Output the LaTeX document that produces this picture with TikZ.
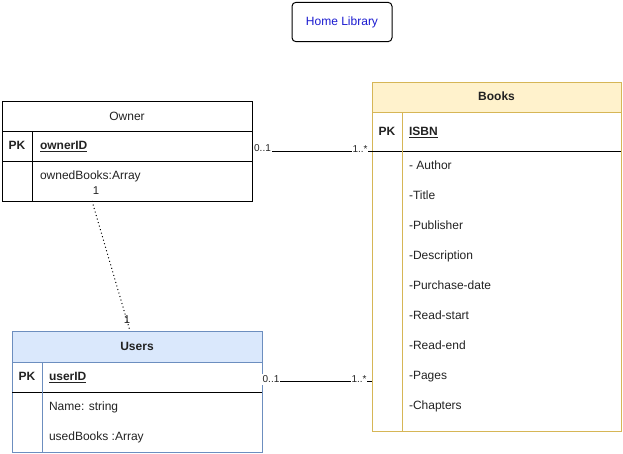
\documentclass[tikz,border=0pt]{standalone}
\usepackage{fontspec}
\setmainfont{Liberation Sans}
\definecolor{userfill}{HTML}{DAE8FC}
\definecolor{userline}{HTML}{6C8EBF}
\definecolor{bookfill}{HTML}{FFF2CC}
\definecolor{bookline}{HTML}{D6B656}
\definecolor{titleblue}{HTML}{1A1AD0}
\definecolor{txt}{HTML}{222222}
\begin{document}
\begin{tikzpicture}[x=0.75pt,y=-0.75pt,line width=0.75pt,
  every node/.style={font=\fontsize{9}{11}\selectfont,inner sep=0pt,outer sep=0pt,text=txt,text height=6.6pt,text depth=1.9pt},
  fieldtext/.style={anchor=west},
  boldtext/.style={font=\fontsize{9}{11}\selectfont\bfseries},
  cardlabel/.style={font=\fontsize{7.5}{9}\selectfont,fill=white,inner sep=0.6pt,text height=5.5pt,text depth=1.6pt},
  endlabel/.style={font=\fontsize{8.5}{10}\selectfont},
  tablebox/.style={draw,rectangle,anchor=north west,inner sep=0pt,outer sep=0pt},
  connector/.style={draw=black,line width=0.75pt}]
\useasboundingbox (0,0) rectangle (623,453);

% title
\node[draw=black,rounded corners=3pt,minimum width=75pt,minimum height=29.5pt,text=titleblue] (title) at (342,22) {Home Library};

% Owner
\node[tablebox,minimum width=187.5pt,minimum height=75pt] (owner) at (2,101) {};
\draw (2,131) -- (252,131);
\draw (2,161) -- (252,161);
\draw (32,131) -- (32,201);
\node (ownerhead) at (127,117) {Owner};
\node[boldtext] (ownerpk) at (17,146.5) {PK};
\node[fieldtext,boldtext] (ownerid) at (40,146.5) {\underline{ownerID}};
\node[fieldtext] (ownerf1) at (40,176.5) {ownedBooks:Array};

% Users
\fill[userfill] (12,331) rectangle (262,362);
\node[tablebox,draw=userline,minimum width=187.5pt,minimum height=90.75pt] (users) at (12,331) {};
\draw[userline] (12,362) -- (262,362);
\draw (12,392) -- (262,392);
\draw[userline] (42,362) -- (42,452);
\node[boldtext] (usershead) at (137,347) {Users};
\node[boldtext] (userspk) at (27,377.5) {PK};
\node[fieldtext,boldtext] (userid) at (49,377.5) {\underline{userID}};
\node[fieldtext] (usersf1) at (49,407.5) {Name: string};
\node[fieldtext] (usersf2) at (49,437.5) {usedBooks :Array};

% Books
\fill[bookfill] (372,82) rectangle (621,112);
\node[tablebox,draw=bookline,minimum width=186.75pt,minimum height=261.75pt] (books) at (372,82) {};
\draw[bookline] (372,112) -- (621,112);
\draw (372,151) -- (621,151);
\draw[bookline] (402,112) -- (402,431);
\node[boldtext] (bookshead) at (496.5,97) {Books};
\node[boldtext] (bookspk) at (387,132) {PK};
\node[fieldtext,boldtext] (isbn) at (409,132) {\underline{ISBN}};
\node[fieldtext] (bf1) at (409,166.5) {- Author};
\node[fieldtext] (bf2) at (409,196.5) {-Title};
\node[fieldtext] (bf3) at (409,226.5) {-Publisher};
\node[fieldtext] (bf4) at (409,256.5) {-Description};
\node[fieldtext] (bf5) at (409,286.5) {-Purchase-date};
\node[fieldtext] (bf6) at (409,316.5) {-Read-start};
\node[fieldtext] (bf7) at (409,346.5) {-Read-end};
\node[fieldtext] (bf8) at (409,376.5) {-Pages};
\node[fieldtext] (bf9) at (409,406.5) {-Chapters};

% ports
\path (owner.north east) ++(0,50) coordinate (ownerport);
\path (books.north west) ++(0,69) coordinate (booksport1);
\path (users.north east) ++(0,50) coordinate (usersport);
\path (books.north west) ++(0,299) coordinate (booksport2);
\path (owner.south west) ++(90,0) coordinate (ownerdown);
\path (users.north west) ++(118,0) coordinate (usersup);

% connectors
\draw[connector] (ownerport) -- (booksport1);
\draw[connector] (usersport) -- (booksport2);
\draw[connector,dotted] (ownerdown) -- (usersup);

% labels
\node[cardlabel] (l1) at (262.5,149) {0..1};
\node[cardlabel] (l2) at (360,149.5) {1..*};
\node[cardlabel] (l3) at (271,379.5) {0..1};
\node[cardlabel] (l4) at (359,380) {1..*};
\node[endlabel] (l5) at (96,191) {1};
\node[endlabel] (l6) at (127,320) {1};
\end{tikzpicture}
\end{document}
